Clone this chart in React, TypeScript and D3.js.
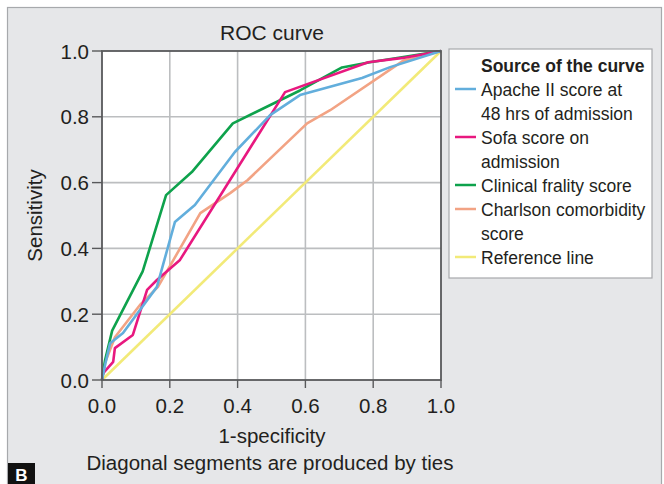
import * as d3 from "d3";

// ROC points (1-specificity, sensitivity)
const apacheX = [0, 0.01, 0.024, 0.062, 0.162, 0.215, 0.274, 0.392, 0.496, 0.584, 0.767, 0.85, 1];
const apacheY = [0, 0.05, 0.112, 0.143, 0.283, 0.48, 0.532, 0.693, 0.805, 0.866, 0.918, 0.951, 1];

const sofaX = [0, 0.003, 0.033, 0.038, 0.091, 0.133, 0.162, 0.23, 0.54, 0.785, 0.888, 1];
const sofaY = [0, 0.02, 0.055, 0.097, 0.137, 0.274, 0.304, 0.365, 0.875, 0.966, 0.979, 1];

const frailtyX = [0, 0.009, 0.03, 0.12, 0.189, 0.265, 0.386, 0.584, 0.708, 0.79, 0.88, 1];
const frailtyY = [0, 0.06, 0.15, 0.33, 0.562, 0.632, 0.78, 0.88, 0.95, 0.966, 0.98, 1];

const charlsonX = [0, 0.009, 0.038, 0.112, 0.165, 0.29, 0.378, 0.43, 0.605, 0.673, 0.888, 1];
const charlsonY = [0, 0.052, 0.13, 0.228, 0.283, 0.507, 0.568, 0.608, 0.78, 0.82, 0.97, 1];

const refX = [0, 1];
const refY = [0, 1];

const ticks = [0, 0.2, 0.4, 0.6, 0.8, 1.0];

const series = [
  { name: ["Apache II score at", "48 hrs of admission"], xs: apacheX, ys: apacheY, color: "#62aedc" },
  { name: ["Sofa score on", "admission"], xs: sofaX, ys: sofaY, color: "#e8187f" },
  { name: ["Clinical frality score"], xs: frailtyX, ys: frailtyY, color: "#0ea24c" },
  { name: ["Charlson comorbidity", "score"], xs: charlsonX, ys: charlsonY, color: "#f2a384" },
  { name: ["Reference line"], xs: refX, ys: refY, color: "#f2ea78" },
];

const FONT = "'Liberation Sans', Arial, sans-serif";

export default function App() {
  const W = 664, H = 484;
  const left = 102, right = 441, top = 51, bottom = 380;
  const x = d3.scaleLinear().domain([0, 1]).range([left, right]);
  const y = d3.scaleLinear().domain([0, 1]).range([bottom, top]);
  const line = d3.line<[number, number]>().x(d => x(d[0])).y(d => y(d[1]));

  // legend layout
  const lgX = 449, lgY = 49, lgW = 203, lgH = 229;
  let row = 0;
  const legendRows: JSX.Element[] = [];
  series.forEach((s, i) => {
    s.name.forEach((t, j) => {
      const by = 96 + row * 24;
      legendRows.push(
        <g key={`${i}-${j}`}>
          {j === 0 && (
            <line x1={455} x2={476} y1={by - 7} y2={by - 7} stroke={s.color} strokeWidth={2.5} />
          )}
          <text x={481} y={by} fontSize={17.5} fill="#231f20">{t}</text>
        </g>
      );
      row++;
    });
  });

  return (
    <svg width={W} height={H} style={{ position: "absolute", left: 0, top: 0 }} fontFamily={FONT}>
      <rect x={0} y={0} width={W} height={H} fill="#ffffff" />
      <rect x={7.5} y={7.5} width={654} height={H} fill="#e6e7e9" stroke="#a7a9ac" strokeWidth={1.2} />

      <text x={272} y={40} fontSize={21} textAnchor="middle" fill="#231f20">ROC curve</text>

      {/* plot area */}
      <rect x={left} y={top} width={right - left} height={bottom - top} fill="#ffffff" />
      {ticks.slice(1, -1).map(t => (
        <g key={`g${t}`}>
          <line x1={x(t)} x2={x(t)} y1={top} y2={bottom} stroke="#bcbec0" strokeWidth={1.6} />
          <line x1={left} x2={right} y1={y(t)} y2={y(t)} stroke="#bcbec0" strokeWidth={1.6} />
        </g>
      ))}

      {series.slice().reverse().map((s, i) => (
        <path
          key={i}
          d={line(s.xs.map((v, k) => [v, s.ys[k]] as [number, number])) || ""}
          fill="none"
          stroke={s.color}
          strokeWidth={2.6}
          strokeLinejoin="round"
        />
      ))}

      <rect x={left} y={top} width={right - left} height={bottom - top} fill="none" stroke="#58595b" strokeWidth={1.8} />

      {ticks.map(t => (
        <g key={`t${t}`}>
          <line x1={x(t)} x2={x(t)} y1={bottom} y2={bottom + 8} stroke="#58595b" strokeWidth={1.4} />
          <text x={x(t)} y={413} fontSize={20.5} textAnchor="middle" fill="#231f20">{t.toFixed(1)}</text>
          <line x1={left - 10} x2={left} y1={y(t)} y2={y(t)} stroke="#58595b" strokeWidth={1.4} />
          <text x={89} y={y(t) + 7.5} fontSize={20.5} textAnchor="end" fill="#231f20">{t.toFixed(1)}</text>
        </g>
      ))}

      <text x={272} y={443} fontSize={20.5} textAnchor="middle" fill="#231f20">1-specificity</text>
      <text x={270} y={470} fontSize={20.5} textAnchor="middle" fill="#231f20">Diagonal segments are produced by ties</text>
      <text transform={`translate(42,${(top + bottom) / 2}) rotate(-90)`} fontSize={20.5} textAnchor="middle" fill="#231f20">Sensitivity</text>

      {/* legend */}
      <rect x={lgX} y={lgY} width={lgW} height={lgH} fill="#ffffff" stroke="#a7a9ac" strokeWidth={1.2} />
      <text x={481} y={72} fontSize={17.5} fontWeight="bold" fill="#231f20">Source of the curve</text>
      {legendRows}

      {/* panel letter */}
      <rect x={8} y={463} width={27} height={21} fill="#111111" />
      <text x={21.5} y={481} fontSize={17} fontWeight="bold" textAnchor="middle" fill="#ffffff">B</text>
    </svg>
  );
}
